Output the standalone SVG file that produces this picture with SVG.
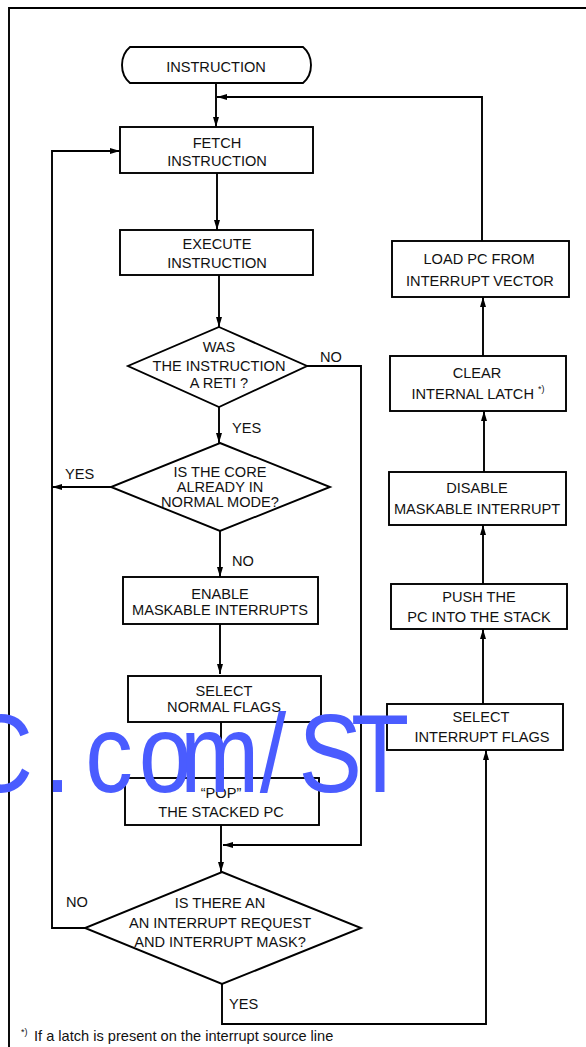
<svg xmlns="http://www.w3.org/2000/svg" width="586" height="1047" viewBox="0 0 586 1047">
<defs>
<marker id="arr" markerUnits="userSpaceOnUse" viewBox="0 0 10 6" markerWidth="10" markerHeight="6" refX="10" refY="3" orient="auto">
<path d="M0,0 L10,3 L0,6 Z" fill="#000"/>
</marker>
<style>
.box{fill:#fff;stroke:#000;stroke-width:1.9}
.t{font-family:"Liberation Sans",Arial,sans-serif;font-size:14.6px;fill:#111;text-anchor:middle}
.l{font-family:"Liberation Sans",Arial,sans-serif;font-size:14.6px;fill:#111}
.c{fill:none;stroke:#000;stroke-width:1.9}
.a{marker-end:url(#arr)}
.sup{font-size:9px}
.wm{font-family:"Liberation Sans",Arial,sans-serif;font-size:112px;fill:#4a5cff}
</style>
</defs>
<rect width="586" height="1047" fill="#fff"/>
<g id="frame"><path class="c" d="M9,1047 V8 H586"/></g>

<g id="connectors">
<path class="c a" d="M216,83 V127"/>
<path class="c a" d="M482,241 V97 H217"/>
<path class="c a" d="M217,173 V230"/>
<path class="c a" d="M219,275 V327"/>
<path class="c a" d="M307,366 H361 V845 H223"/>
<path class="c a" d="M219,407 V443"/>
<path class="c a" d="M111,487 H52"/>
<path class="c a" d="M220,531 V577"/>
<path class="c a" d="M220,624 V674"/>
<path class="c a" d="M221,722 V778"/>
<path class="c a" d="M221,825 V872"/>
<path class="c a" d="M85,928 H52 V151 H120"/>
<path class="c a" d="M222,984 V1024 H486 V750"/>
<path class="c a" d="M483,704 V629"/>
<path class="c a" d="M483,584 V525"/>
<path class="c a" d="M484,472 V411"/>
<path class="c a" d="M483,356 V297"/>
</g>

<g id="start">
<path class="box" d="M130,47 H303 C309,52 311,59 311,65 C311,71 309,78 303,83 H130 C124,78 122,71 122,65 C122,59 124,52 130,47 Z"/>
<text class="t" x="216" y="72">INSTRUCTION</text>
</g>
<g id="fetch">
<rect class="box" x="120" y="127" width="193" height="46"/>
<text class="t" x="217" y="148">FETCH</text>
<text class="t" x="217" y="166">INSTRUCTION</text>
</g>
<g id="execute">
<rect class="box" x="120" y="230" width="193" height="45"/>
<text class="t" x="217" y="249">EXECUTE</text>
<text class="t" x="217" y="268">INSTRUCTION</text>
</g>
<g id="reti">
<path class="box" d="M219,327 L307,366 L219,407 L128,366 Z"/>
<text class="t" x="219" y="352">WAS</text>
<text class="t" x="219" y="371">THE INSTRUCTION</text>
<text class="t" x="219" y="388">A RETI ?</text>
</g>
<g id="normalmode">
<path class="box" d="M220,443 L330,487 L220,531 L111,487 Z"/>
<text class="t" x="220" y="477">IS THE CORE</text>
<text class="t" x="220" y="492">ALREADY IN</text>
<text class="t" x="220" y="507">NORMAL MODE?</text>
</g>
<g id="enable">
<rect class="box" x="123" y="577" width="195" height="47"/>
<text class="t" x="220" y="599">ENABLE</text>
<text class="t" x="220" y="615">MASKABLE INTERRUPTS</text>
</g>
<g id="selectnormal">
<rect class="box" x="128" y="676" width="193" height="46"/>
<text class="t" x="224" y="696">SELECT</text>
<text class="t" x="224" y="712">NORMAL FLAGS</text>
</g>
<g id="pop">
<rect class="box" x="125" y="778" width="194" height="47"/>
<text class="t" x="221" y="798">“POP”</text>
<text class="t" x="221" y="817">THE STACKED PC</text>
</g>
<g id="interrupt">
<path class="box" d="M222,872 L361,928 L222,984 L85,928 Z"/>
<text class="t" x="220" y="908">IS THERE AN</text>
<text class="t" x="220" y="928">AN INTERRUPT REQUEST</text>
<text class="t" x="220" y="947">AND INTERRUPT MASK?</text>
</g>
<g id="loadpc">
<rect class="box" x="392" y="241" width="177" height="56"/>
<text class="t" x="479" y="264">LOAD PC FROM</text>
<text class="t" x="480" y="286">INTERRUPT VECTOR</text>
</g>
<g id="clear">
<rect class="box" x="390" y="356" width="176" height="55"/>
<text class="t" x="477" y="378">CLEAR</text>
<text class="t" x="478" y="399">INTERNAL LATCH <tspan class="sup" dy="-7">*)</tspan></text>
</g>
<g id="disable">
<rect class="box" x="389" y="472" width="177" height="53"/>
<text class="t" x="477" y="493">DISABLE</text>
<text class="t" x="477" y="514">MASKABLE INTERRUPT</text>
</g>
<g id="push">
<rect class="box" x="391" y="584" width="176" height="45"/>
<text class="t" x="479" y="602">PUSH THE</text>
<text class="t" x="479" y="622">PC INTO THE STACK</text>
</g>
<g id="selectint">
<rect class="box" x="387" y="704" width="176" height="46"/>
<text class="t" x="481" y="722">SELECT</text>
<text class="t" x="482" y="742">INTERRUPT FLAGS</text>
</g>

<g id="labels">
<text class="l" x="320" y="362">NO</text>
<text class="l" x="232" y="433">YES</text>
<text class="l" x="65" y="479">YES</text>
<text class="l" x="232" y="566">NO</text>
<text class="l" x="66" y="907">NO</text>
<text class="l" x="229" y="1009">YES</text>
</g>

<g id="footnote">
<text class="l" x="21" y="1041"><tspan class="sup" dy="-6">*)</tspan><tspan x="34" dy="6">If a latch is present on the interrupt source line</tspan></text>
</g>

<g id="watermark" transform="scale(0.85,1)">
<text class="wm" x="-42 52 100.4 163.3 211.8 305.6 351.3 413" y="792">C.com/ST</text>
</g>
</svg>
